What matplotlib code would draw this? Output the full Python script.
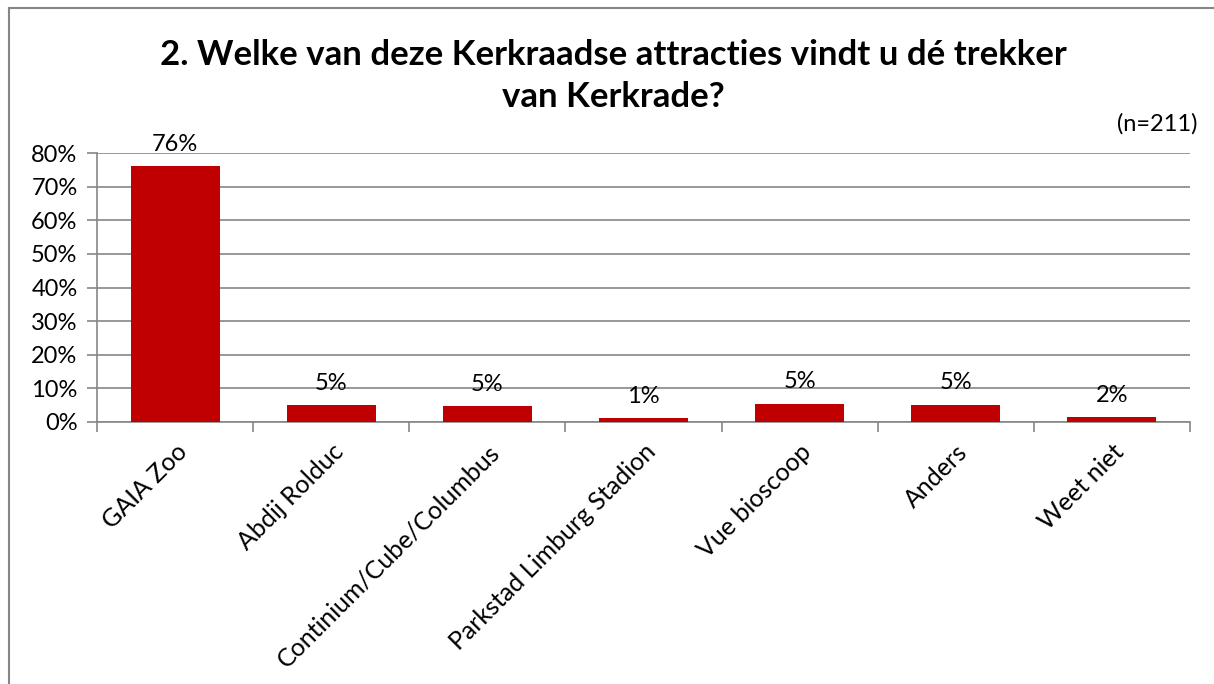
import matplotlib.pyplot as plt
from matplotlib.lines import Line2D

plt.rcParams['font.family'] = ['Lato', 'DejaVu Sans']

# data
categories = ['GAIA Zoo', 'Abdij Rolduc', 'Continium/Cube/Columbus',
              'Parkstad Limburg Stadion', 'Vue bioscoop', 'Anders', 'Weet niet']
values = [76.0, 5.0, 4.7, 1.3, 5.5, 5.2, 1.6]
labels = ['76%', '5%', '5%', '1%', '5%', '5%', '2%']
yticks = [0, 10, 20, 30, 40, 50, 60, 70, 80]

W, H = 1214, 684
fig = plt.figure(figsize=(W / 100, H / 100), dpi=100)
ax = fig.add_axes([97 / W, 1 - 422 / H, (1190 - 97) / W, (422 - 153) / H])

grey = '#868686'
x = range(len(categories))
ax.bar(x, values, width=0.57, color='#C00000', zorder=3)
for i, (v, lab) in enumerate(zip(values, labels)):
    ax.text(i, v + 3.3, lab, ha='center', va='bottom', fontsize=17)

ax.set_xlim(-0.5, len(categories) - 0.5)
ax.set_ylim(0, 80)
ax.set_yticks(yticks)
ax.set_yticklabels([f'{t}%' for t in yticks], fontsize=17)
ax.yaxis.grid(True, color=grey, linewidth=1.2, zorder=0)
ax.tick_params(axis='y', length=7, color=grey, width=1.2, pad=7)

ax.set_xticks([i - 0.5 for i in range(len(categories) + 1)], minor=False)
ax.set_xticklabels([])
ax.tick_params(axis='x', which='major', length=7, color=grey, width=1.2)
ax.set_xticks(list(x), minor=True)
ax.set_xticklabels(categories, minor=True, rotation=45, ha='right',
                   rotation_mode='anchor', fontsize=18)
ax.tick_params(axis='x', which='minor', length=0, pad=13)

for s in ['top', 'right']:
    ax.spines[s].set_visible(False)
for s in ['left', 'bottom']:
    ax.spines[s].set_color(grey)
    ax.spines[s].set_linewidth(1.2)

fig.text(613 / W, 1 - 55 / H, '2. Welke van deze Kerkraadse attracties vindt u dé trekker',
         ha='center', va='center', fontsize=25, fontweight='bold')
fig.text(613 / W, 1 - 97 / H, 'van Kerkrade?',
         ha='center', va='center', fontsize=25, fontweight='bold')
fig.text(1198 / W, 1 - 124 / H, '(n=211)', ha='right', va='center', fontsize=17)

# chart border (only top and left edges are inside the crop)
fig.add_artist(Line2D([9 / W, 1], [1 - 8 / H, 1 - 8 / H], color=grey, linewidth=1.5))
fig.add_artist(Line2D([9 / W, 9 / W], [0, 1 - 8 / H], color=grey, linewidth=1.5))

fig.savefig('out.png', dpi=100)
